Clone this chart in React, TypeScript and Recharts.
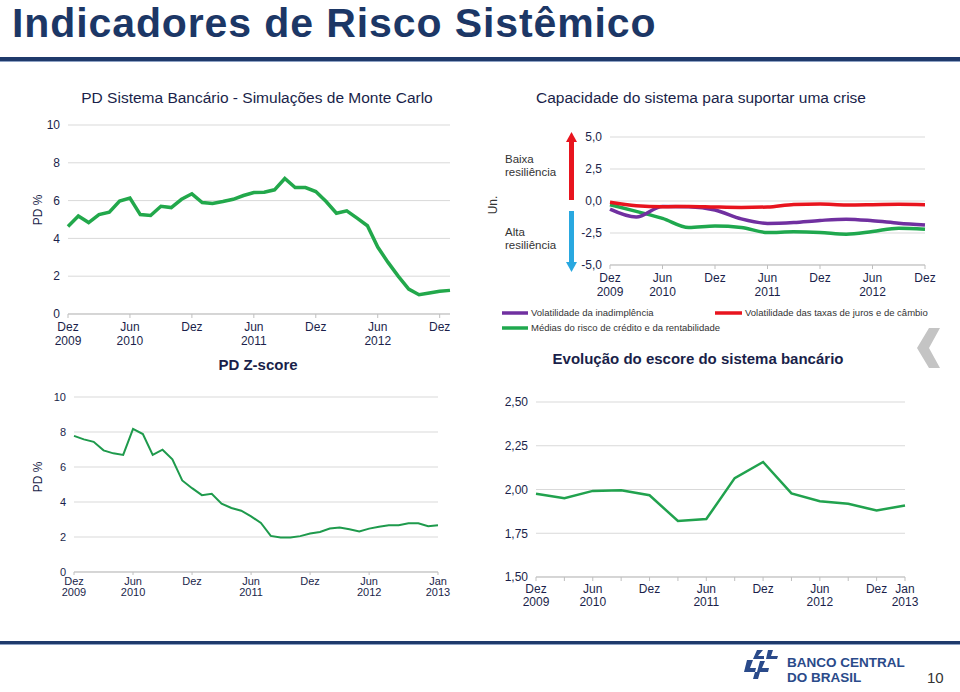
import React from "react";
import { LineChart, Line, XAxis, YAxis, CartesianGrid } from "recharts";

const FONT = "'Liberation Sans', Arial, sans-serif";
const NAVY = "#1c3766";
const TICK = "#1b1f4b";
const GRID = "#d9d9d9";
const AXIS = "#bfbfbf";

// PD Sistema Bancário - Simulações de Monte Carlo (mensal, Dez 2009 - Jan 2013)
const pdMonteCarlo = [
  4.63, 5.19, 4.84, 5.26, 5.39, 5.97, 6.13, 5.26, 5.21, 5.7, 5.63, 6.07, 6.36,
  5.9, 5.85, 5.95, 6.07, 6.27, 6.43, 6.44, 6.57, 7.17, 6.69, 6.69, 6.48, 5.95,
  5.33, 5.46, 5.07, 4.67, 3.54, 2.73, 1.99, 1.32, 1.02, 1.11, 1.2, 1.25,
];
const pdMonteCarloTicks = [0, 6, 12, 18, 24, 30, 36];
const pdMonteCarloLabels = ["Dez|2009", "Jun|2010", "Dez", "Jun|2011", "Dez", "Jun|2012", "Dez"];

// PD Z-score (mensal, Dez 2009 - Jan 2013)
const pdZscore = [
  7.78, 7.58, 7.44, 6.95, 6.78, 6.69, 8.18, 7.88, 6.69, 6.99, 6.44, 5.23, 4.79,
  4.39, 4.47, 3.9, 3.66, 3.5, 3.18, 2.8, 2.06, 1.97, 1.97, 2.05, 2.2, 2.29, 2.48,
  2.54, 2.44, 2.31, 2.48, 2.59, 2.67, 2.67, 2.78, 2.78, 2.61, 2.67,
];
const pdZscoreTicks = [0, 6, 12, 18, 24, 30, 36, 37];
const pdZscoreLabels = ["Dez|2009", "Jun|2010", "Dez", "Jun|2011", "Dez", "Jun|2012", "", "Jan|2013"];
const pdYTicks = [0, 2, 4, 6, 8, 10];

// Capacidade do sistema para suportar uma crise (trimestral, Dez 2009 - Dez 2012)
const volInadimplencia = [-0.63, -1.25, -0.42, -0.45, -0.7, -1.4, -1.75, -1.68, -1.52, -1.42, -1.54, -1.73, -1.88];
const volJurosCambio = [-0.1, -0.37, -0.45, -0.42, -0.47, -0.5, -0.47, -0.27, -0.24, -0.31, -0.29, -0.26, -0.29];
const mediasCredito = [-0.29, -0.81, -1.36, -2.07, -1.96, -2.07, -2.46, -2.41, -2.46, -2.59, -2.38, -2.12, -2.2];
const criseTicks = [0, 2, 4, 6, 8, 10, 12];
const criseLabels = ["Dez|2009", "Jun|2010", "Dez", "Jun|2011", "Dez", "Jun|2012", "Dez"];
const criseYTicks = [-5, -2.5, 0, 2.5, 5];

// Evolução do escore do sistema bancário (trimestral + Jan 2013)
const escore = [1.976, 1.95, 1.992, 1.995, 1.967, 1.82, 1.831, 2.065, 2.157, 1.978, 1.933, 1.918, 1.88, 1.909];
const escoreTicks = [0, 1, 2, 3, 4, 5, 6, 7, 8, 9, 10, 11, 12, 13];
const escoreLabels = ["Dez|2009", "", "Jun|2010", "", "Dez", "", "Jun|2011", "", "Dez", "", "Jun|2012", "", "Dez", "Jan|2013"];
const escoreYTicks = [1.5, 1.75, 2, 2.25, 2.5];

function makeTick(ticks: number[], labels: string[], fontSize: number, first: number, gap: number) {
  return (props: any) => {
    const { x, y, payload } = props;
    const idx = ticks.indexOf(payload.value);
    const lines = idx >= 0 && labels[idx] ? labels[idx].split("|") : [];
    return (
      <text x={x} y={y} textAnchor="middle" fontSize={fontSize} fill={TICK} fontFamily={FONT}>
        {lines.map((l, k) => (
          <tspan key={k} x={x} dy={k === 0 ? first : gap}>
            {l}
          </tspan>
        ))}
      </text>
    );
  };
}

const comma = (d: number) => (v: number) => v.toFixed(d).replace(".", ",");

const abs = (left: number, top: number): React.CSSProperties => ({ position: "absolute", left, top });

function TextAt({ x, y, children, style }: { x: number; y: number; children: React.ReactNode; style?: React.CSSProperties }) {
  return (
    <div style={{ position: "absolute", left: x, top: y, fontFamily: FONT, whiteSpace: "nowrap", lineHeight: 1, ...style }}>
      {children}
    </div>
  );
}

export default function App() {
  const dataMc = pdMonteCarlo.map((v, i) => ({ i, v }));
  const dataZ = pdZscore.map((v, i) => ({ i, v }));
  const dataCrise = volInadimplencia.map((v, i) => ({ i, inad: v, juros: volJurosCambio[i], medias: mediasCredito[i] }));
  const dataEscore = escore.map((v, i) => ({ i, v }));

  return (
    <div style={{ position: "fixed", left: 0, top: 0, width: 960, height: 692, background: "#fff", overflow: "hidden", fontFamily: FONT }}>
      {/* título */}
      <TextAt x={12} y={2} style={{ fontSize: 41, lineHeight: "42px", fontWeight: 700, color: NAVY, letterSpacing: 0.9 }}>
        Indicadores de Risco Sistêmico
      </TextAt>
      <div style={{ position: "absolute", left: 0, top: 57, width: 960, height: 4, background: "#1f3a6b" }} />
      <div style={{ position: "absolute", left: 0, top: 61, width: 960, height: 1, background: "#8ea2c4" }} />

      <TextAt x={257} y={90} style={{ fontSize: 15.5, color: "#1a1f4a", transform: "translateX(-50%)" }}>
        PD Sistema Bancário - Simulações de Monte Carlo
      </TextAt>
      <TextAt x={701} y={90} style={{ fontSize: 15.5, color: "#1a1f4a", transform: "translateX(-50%)" }}>
        Capacidade do sistema para suportar uma crise
      </TextAt>

      {/* PD Monte Carlo */}
      <div style={abs(0, 110)}>
        <LineChart width={470} height={250} data={dataMc} margin={{ top: 15, right: 20, left: 28, bottom: 10 }}>
          <CartesianGrid vertical={false} stroke={GRID} />
          <XAxis
            dataKey="i"
            type="number"
            domain={[0, pdMonteCarlo.length - 1]}
            ticks={pdMonteCarloTicks}
            height={36}
            stroke={AXIS}
            tickSize={4}
            tick={makeTick(pdMonteCarloTicks, pdMonteCarloLabels, 12, 11, 14)}
          />
          <YAxis
            domain={[0, 10]}
            ticks={pdYTicks}
            width={40}
            axisLine={false}
            tickLine={false}
            tick={{ fontSize: 12, fill: TICK, fontFamily: FONT }}
          />
          <Line dataKey="v" stroke="#22a84b" strokeWidth={3.5} dot={false} isAnimationActive={false} />
        </LineChart>
      </div>
      <TextAt x={38} y={210} style={{ fontSize: 12, color: TICK, transform: "translate(-50%, -50%) rotate(-90deg)" }}>
        PD %
      </TextAt>
      <TextAt x={258} y={357} style={{ fontSize: 15, fontWeight: 700, color: "#1a1f4a", transform: "translateX(-50%)" }}>
        PD Z-score
      </TextAt>

      {/* Capacidade do sistema */}
      <div style={abs(570, 125)}>
        <LineChart width={375} height={180} data={dataCrise} margin={{ top: 12, right: 20, left: 6, bottom: 4 }}>
          <CartesianGrid vertical={false} stroke={GRID} />
          <XAxis
            dataKey="i"
            type="number"
            domain={[0, volInadimplencia.length - 1]}
            ticks={criseTicks}
            height={36}
            stroke={AXIS}
            tickSize={4}
            tick={makeTick(criseTicks, criseLabels, 12, 11, 14)}
          />
          <YAxis
            domain={[-5, 5]}
            ticks={criseYTicks}
            width={34}
            axisLine={false}
            tickLine={false}
            tickFormatter={comma(1)}
            tick={{ fontSize: 12, fill: TICK, fontFamily: FONT }}
          />
          <Line type="monotone" dataKey="medias" stroke="#1fa84e" strokeWidth={3.5} dot={false} isAnimationActive={false} />
          <Line type="monotone" dataKey="inad" stroke="#7030a0" strokeWidth={3.5} dot={false} isAnimationActive={false} />
          <Line type="monotone" dataKey="juros" stroke="#e8141e" strokeWidth={3.5} dot={false} isAnimationActive={false} />
        </LineChart>
      </div>
      <svg width={960} height={692} style={{ position: "absolute", left: 0, top: 0, pointerEvents: "none" }}>
        {/* setas de resiliência */}
        <rect x={569} y={140} width={5} height={60} fill="#e8141e" />
        <polygon points="566,142 571.5,132 577,142" fill="#e8141e" />
        <rect x={569} y={211} width={5} height={52} fill="#29a8e0" />
        <polygon points="566,262 571.5,272 577,262" fill="#29a8e0" />
        {/* legenda */}
        <line x1={502} y1={313} x2={528} y2={313} stroke="#7030a0" strokeWidth={3.5} />
        <line x1={715} y1={313} x2={742} y2={313} stroke="#e8141e" strokeWidth={3.5} />
        <line x1={502} y1={328} x2={528} y2={328} stroke="#1fa84e" strokeWidth={3.5} />
        {/* seta cinza */}
        <polygon points="940,328 929,328 917,348 929,368 940,368 929,348" fill="#c4c4c4" />
        {/* logo */}
        <g fill="#2a4a8a">
          <polygon points="757,650 763,650 758,656 764,656 764,659 753,659" />
          <polygon points="768,650 773,650 771,656 778,656 777,659 766,659" />
          <polygon points="747,660 753,660 750,668 756,668 755,672 744,672" />
          <polygon points="760,661 765,661 762,668 769,668 768,672 757,672" />
          <polygon points="755,672 760,672 758,679 753,679" />
        </g>
      </svg>
      <TextAt x={505} y={153} style={{ fontSize: 11.5, color: "#333", lineHeight: "13px" }}>
        Baixa
        <br />
        resiliência
      </TextAt>
      <TextAt x={505} y={226} style={{ fontSize: 11.5, color: "#333", lineHeight: "13px" }}>
        Alta
        <br />
        resiliência
      </TextAt>
      <TextAt x={493} y={205} style={{ fontSize: 12, color: "#333", transform: "translate(-50%, -50%) rotate(-90deg)" }}>
        Un.
      </TextAt>
      <TextAt x={531} y={308} style={{ fontSize: 9.5, color: "#333" }}>
        Volatilidade da inadimplência
      </TextAt>
      <TextAt x={745} y={308} style={{ fontSize: 9.5, color: "#333" }}>
        Volatilidade das taxas de juros e de câmbio
      </TextAt>
      <TextAt x={531} y={323} style={{ fontSize: 9.5, color: "#333" }}>
        Médias do risco de crédito e da rentabilidade
      </TextAt>
      <TextAt x={698} y={351} style={{ fontSize: 15, fontWeight: 700, color: "#1a1f4a", transform: "translateX(-50%)" }}>
        Evolução do escore do sistema bancário
      </TextAt>

      {/* PD Z-score */}
      <div style={abs(0, 385)}>
        <LineChart width={460} height={225} data={dataZ} margin={{ top: 12, right: 22, left: 34, bottom: 8 }}>
          <CartesianGrid vertical={false} stroke={GRID} />
          <XAxis
            dataKey="i"
            type="number"
            domain={[0, pdZscore.length - 1]}
            ticks={pdZscoreTicks}
            height={30}
            stroke={AXIS}
            tickSize={3}
            tick={makeTick(pdZscoreTicks, pdZscoreLabels, 11, 8, 11)}
          />
          <YAxis
            domain={[0, 10]}
            ticks={pdYTicks}
            width={40}
            axisLine={false}
            tickLine={false}
            tick={{ fontSize: 11, fill: TICK, fontFamily: FONT }}
          />
          <Line dataKey="v" stroke="#1e9a4c" strokeWidth={2} dot={false} isAnimationActive={false} />
        </LineChart>
      </div>
      <TextAt x={38} y={477} style={{ fontSize: 12, color: TICK, transform: "translate(-50%, -50%) rotate(-90deg)" }}>
        PD %
      </TextAt>

      {/* Escore */}
      <div style={abs(480, 390)}>
        <LineChart width={450} height={230} data={dataEscore} margin={{ top: 12, right: 25, left: 10, bottom: 8 }}>
          <CartesianGrid vertical={false} stroke={GRID} />
          <XAxis
            dataKey="i"
            type="number"
            domain={[0, escore.length - 1]}
            ticks={escoreTicks}
            height={35}
            stroke={AXIS}
            tickSize={4}
            tick={makeTick(escoreTicks, escoreLabels, 12, 10, 13)}
          />
          <YAxis
            domain={[1.5, 2.5]}
            ticks={escoreYTicks}
            width={46}
            axisLine={false}
            tickLine={false}
            tickFormatter={comma(2)}
            tick={{ fontSize: 12, fill: TICK, fontFamily: FONT }}
          />
          <Line dataKey="v" stroke="#21a24e" strokeWidth={2.5} dot={false} isAnimationActive={false} />
        </LineChart>
      </div>

      {/* rodapé */}
      <div style={{ position: "absolute", left: 0, top: 641, width: 960, height: 3, background: "#1f3a6b" }} />
      <div style={{ position: "absolute", left: 0, top: 644, width: 960, height: 1, background: "#8ea2c4" }} />
      <TextAt x={787} y={656} style={{ fontSize: 13.5, fontWeight: 700, color: "#2a4a8a" }}>
        BANCO CENTRAL
      </TextAt>
      <TextAt x={787} y={671} style={{ fontSize: 13.5, fontWeight: 700, color: "#2a4a8a" }}>
        DO BRASIL
      </TextAt>
      <TextAt x={927} y={670} style={{ fontSize: 15, color: "#333" }}>
        10
      </TextAt>
    </div>
  );
}
